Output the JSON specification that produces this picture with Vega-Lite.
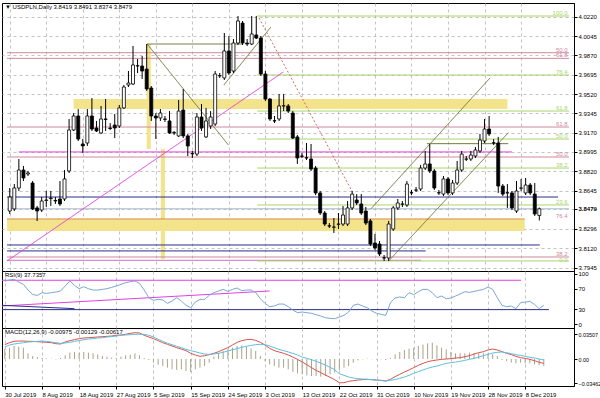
{
"$schema": "https://vega.github.io/schema/vega-lite/v6.json",
"padding": {"left": 1, "top": 2, "right": 0, "bottom": 0},
"background": "white",
"spacing": 0,
"bounds": "flush",
"config": {
 "view": {"stroke": "#000", "strokeWidth": 1},
 "font": "Liberation Sans",
 "axis": {"labelFontSize": 6, "labelColor": "#000", "tickColor": "#000", "domainColor": "#000", "gridColor": "#b4b4b4", "gridDash": [3, 3], "gridWidth": 0.8, "tickSize": 3, "labelPadding": 1, "minExtent": 0},
 "title": {"fontSize": 6, "fontWeight": "normal", "color": "#000", "anchor": "start", "frame": "group", "offset": -7, "dx": 3, "font": "Liberation Sans"}
},
"datasets": {
 "bars": [
{"i":0,"o":3.8459,"h":3.8668,"l":3.8432,"c":3.8586,"rsi":85,"hist":0.0147,"m1":0.0204,"m2":0.0171},
{"i":1,"o":3.8478,"h":3.8704,"l":3.8459,"c":3.8668,"rsi":87.5,"hist":0.0161,"m1":0.0232,"m2":0.0199},
{"i":2,"o":3.8668,"h":3.8931,"l":3.8641,"c":3.8831,"rsi":88.8,"hist":0.0185,"m1":0.0251,"m2":0.0213},
{"i":3,"o":3.8831,"h":3.8868,"l":3.8731,"c":3.8759,"rsi":83.5,"hist":0.0175,"m1":0.0256,"m2":0.0223},
{"i":4,"o":3.8795,"h":3.8822,"l":3.8777,"c":3.8804,"rsi":79,"hist":0.0161,"m1":0.0256,"m2":0.0232},
{"i":5,"o":3.8713,"h":3.8731,"l":3.8468,"c":3.8478,"rsi":67.7,"hist":0.0081,"m1":0.0251,"m2":0.0242},
{"i":6,"o":3.8487,"h":3.8505,"l":3.8369,"c":3.8459,"rsi":59,"hist":0.0043,"m1":0.0251,"m2":0.0246},
{"i":7,"o":3.8468,"h":3.8586,"l":3.8450,"c":3.8550,"rsi":57,"hist":0.0028,"m1":0.0246,"m2":0.0251},
{"i":8,"o":3.8555,"h":3.8641,"l":3.8496,"c":3.8559,"rsi":62.5,"hist":0.0014,"m1":0.0242,"m2":0.0256},
{"i":9,"o":3.8572,"h":3.8641,"l":3.8505,"c":3.8577,"rsi":61,"hist":0.0009,"m1":0.0237,"m2":0.0251},
{"i":10,"o":3.8555,"h":3.8586,"l":3.8523,"c":3.8550,"rsi":62.5,"hist":0.0005,"m1":0.0232,"m2":0.0242},
{"i":11,"o":3.8568,"h":3.8731,"l":3.8505,"c":3.8523,"rsi":63.8,"hist":-0.0005,"m1":0.0218,"m2":0.0232},
{"i":12,"o":3.8568,"h":3.8831,"l":3.8550,"c":3.8750,"rsi":65.8,"hist":0.0014,"m1":0.0213,"m2":0.0223},
{"i":13,"o":3.8822,"h":3.9294,"l":3.8804,"c":3.9194,"rsi":75.6,"hist":0.0052,"m1":0.0242,"m2":0.0228},
{"i":14,"o":3.9194,"h":3.9348,"l":3.9185,"c":3.9321,"rsi":85.5,"hist":0.0090,"m1":0.0261,"m2":0.0237},
{"i":15,"o":3.9321,"h":3.9384,"l":3.9094,"c":3.9112,"rsi":77,"hist":0.0100,"m1":0.0275,"m2":0.0251},
{"i":16,"o":3.9067,"h":3.9112,"l":3.8985,"c":3.9049,"rsi":70.4,"hist":0.0090,"m1":0.0289,"m2":0.0261},
{"i":17,"o":3.9076,"h":3.9384,"l":3.9049,"c":3.9321,"rsi":74.3,"hist":0.0100,"m1":0.0299,"m2":0.0275},
{"i":18,"o":3.9321,"h":3.9484,"l":3.9185,"c":3.9203,"rsi":70.4,"hist":0.0090,"m1":0.0303,"m2":0.0284},
{"i":19,"o":3.9212,"h":3.9276,"l":3.9176,"c":3.9185,"rsi":67.7,"hist":0.0081,"m1":0.0308,"m2":0.0289},
{"i":20,"o":3.9167,"h":3.9412,"l":3.9158,"c":3.9294,"rsi":67.7,"hist":0.0066,"m1":0.0313,"m2":0.0299},
{"i":21,"o":3.9294,"h":3.9475,"l":3.9185,"c":3.9290,"rsi":69,"hist":0.0043,"m1":0.0318,"m2":0.0303},
{"i":22,"o":3.9212,"h":3.9257,"l":3.9194,"c":3.9208,"rsi":70.4,"hist":0.0033,"m1":0.0322,"m2":0.0313},
{"i":23,"o":3.9239,"h":3.9339,"l":3.9121,"c":3.9212,"rsi":73,"hist":0.0019,"m1":0.0327,"m2":0.0318},
{"i":24,"o":3.9230,"h":3.9421,"l":3.9212,"c":3.9394,"rsi":75.6,"hist":0.0014,"m1":0.0337,"m2":0.0327},
{"i":25,"o":3.9394,"h":3.9602,"l":3.9384,"c":3.9584,"rsi":79,"hist":0.0033,"m1":0.0341,"m2":0.0337},
{"i":26,"o":3.9602,"h":3.9729,"l":3.9584,"c":3.9620,"rsi":82.2,"hist":0.0052,"m1":0.0351,"m2":0.0341},
{"i":27,"o":3.9611,"h":3.9956,"l":3.9602,"c":3.9784,"rsi":84.2,"hist":0.0062,"m1":0.0365,"m2":0.0346},
{"i":28,"o":3.9774,"h":3.9838,"l":3.9711,"c":3.9778,"rsi":85.5,"hist":0.0081,"m1":0.0374,"m2":0.0351},
{"i":29,"o":3.9774,"h":3.9865,"l":3.9657,"c":3.9729,"rsi":80.9,"hist":0.0052,"m1":0.0370,"m2":0.0351},
{"i":30,"o":3.9747,"h":3.9974,"l":3.9548,"c":3.9566,"rsi":67.7,"hist":0.0014,"m1":0.0337,"m2":0.0351},
{"i":31,"o":3.9575,"h":3.9593,"l":3.9276,"c":3.9321,"rsi":52.6,"hist":-0.0014,"m1":0.0313,"m2":0.0337},
{"i":32,"o":3.9321,"h":3.9348,"l":3.9112,"c":3.9303,"rsi":47.3,"hist":-0.0052,"m1":0.0289,"m2":0.0313},
{"i":33,"o":3.9303,"h":3.9384,"l":3.9276,"c":3.9348,"rsi":49.3,"hist":-0.0081,"m1":0.0261,"m2":0.0280},
{"i":34,"o":3.9290,"h":3.9321,"l":3.9267,"c":3.9294,"rsi":48,"hist":-0.0100,"m1":0.0232,"m2":0.0251},
{"i":35,"o":3.9276,"h":3.9366,"l":3.9158,"c":3.9167,"rsi":41.4,"hist":-0.0123,"m1":0.0209,"m2":0.0223},
{"i":36,"o":3.9170,"h":3.9185,"l":3.9149,"c":3.9167,"rsi":46,"hist":-0.0147,"m1":0.0185,"m2":0.0204},
{"i":37,"o":3.9140,"h":3.9466,"l":3.9131,"c":3.9366,"rsi":52.6,"hist":-0.0156,"m1":0.0161,"m2":0.0180},
{"i":38,"o":3.9375,"h":3.9566,"l":3.9121,"c":3.9140,"rsi":46,"hist":-0.0147,"m1":0.0142,"m2":0.0161},
{"i":39,"o":3.9140,"h":3.9158,"l":3.8958,"c":3.9049,"rsi":37.5,"hist":-0.0171,"m1":0.0119,"m2":0.0137},
{"i":40,"o":3.8980,"h":3.9004,"l":3.8940,"c":3.8978,"rsi":32.8,"hist":-0.0185,"m1":0.0081,"m2":0.0119},
{"i":41,"o":3.8976,"h":3.9348,"l":3.8958,"c":3.9312,"rsi":44,"hist":-0.0147,"m1":0.0057,"m2":0.0104},
{"i":42,"o":3.9312,"h":3.9430,"l":3.9185,"c":3.9212,"rsi":49.3,"hist":-0.0123,"m1":0.0038,"m2":0.0085},
{"i":43,"o":3.9131,"h":3.9394,"l":3.9121,"c":3.9276,"rsi":49.3,"hist":-0.0100,"m1":0.0047,"m2":0.0071},
{"i":44,"o":3.9230,"h":3.9366,"l":3.9203,"c":3.9312,"rsi":57.2,"hist":-0.0052,"m1":0.0062,"m2":0.0066},
{"i":45,"o":3.9248,"h":3.9729,"l":3.9230,"c":3.9702,"rsi":62.5,"hist":0.0033,"m1":0.0081,"m2":0.0071},
{"i":46,"o":3.9684,"h":3.9711,"l":3.9666,"c":3.9688,"rsi":65.8,"hist":0.0081,"m1":0.0104,"m2":0.0081},
{"i":47,"o":3.9666,"h":4.0074,"l":3.9648,"c":3.9911,"rsi":69,"hist":0.0114,"m1":0.0133,"m2":0.0095},
{"i":48,"o":3.9911,"h":4.0047,"l":3.9693,"c":3.9711,"rsi":65,"hist":0.0137,"m1":0.0161,"m2":0.0114},
{"i":49,"o":3.9729,"h":4.0019,"l":3.9711,"c":3.9983,"rsi":69,"hist":0.0161,"m1":0.0199,"m2":0.0133},
{"i":50,"o":3.9983,"h":4.0228,"l":3.9965,"c":4.0183,"rsi":71.7,"hist":0.0185,"m1":0.0237,"m2":0.0147},
{"i":51,"o":4.0164,"h":4.0183,"l":3.9965,"c":3.9983,"rsi":66.4,"hist":0.0194,"m1":0.0261,"m2":0.0166},
{"i":52,"o":3.9983,"h":4.0019,"l":3.9956,"c":3.9974,"rsi":67.7,"hist":0.0175,"m1":0.0275,"m2":0.0180},
{"i":53,"o":3.9974,"h":4.0228,"l":3.9965,"c":4.0065,"rsi":67.7,"hist":0.0147,"m1":0.0280,"m2":0.0194},
{"i":54,"o":4.0056,"h":4.0228,"l":4.0019,"c":4.0028,"rsi":62.5,"hist":0.0114,"m1":0.0265,"m2":0.0204},
{"i":55,"o":4.0028,"h":4.0047,"l":3.9684,"c":3.9702,"rsi":50.6,"hist":0.0043,"m1":0.0237,"m2":0.0209},
{"i":56,"o":3.9702,"h":3.9729,"l":3.9457,"c":3.9475,"rsi":41.4,"hist":-0.0028,"m1":0.0199,"m2":0.0204},
{"i":57,"o":3.9475,"h":3.9484,"l":3.9276,"c":3.9294,"rsi":34.8,"hist":-0.0076,"m1":0.0152,"m2":0.0185},
{"i":58,"o":3.9278,"h":3.9321,"l":3.9257,"c":3.9276,"rsi":36.1,"hist":-0.0100,"m1":0.0119,"m2":0.0161},
{"i":59,"o":3.9294,"h":3.9521,"l":3.9276,"c":3.9412,"rsi":40,"hist":-0.0123,"m1":0.0100,"m2":0.0137},
{"i":60,"o":3.9412,"h":3.9521,"l":3.9366,"c":3.9414,"rsi":40,"hist":-0.0123,"m1":0.0081,"m2":0.0119},
{"i":61,"o":3.9412,"h":3.9430,"l":3.9348,"c":3.9366,"rsi":34.8,"hist":-0.0147,"m1":0.0057,"m2":0.0100},
{"i":62,"o":3.9348,"h":3.9366,"l":3.9112,"c":3.9121,"rsi":28.2,"hist":-0.0185,"m1":0.0028,"m2":0.0081},
{"i":63,"o":3.9131,"h":3.9149,"l":3.8886,"c":3.8940,"rsi":23,"hist":-0.0204,"m1":-0.0005,"m2":0.0057},
{"i":64,"o":3.8958,"h":3.8985,"l":3.8940,"c":3.8956,"rsi":24.3,"hist":-0.0218,"m1":-0.0043,"m2":0.0028},
{"i":65,"o":3.8942,"h":3.9076,"l":3.8922,"c":3.8940,"rsi":23,"hist":-0.0232,"m1":-0.0081,"m2":0.0009},
{"i":66,"o":3.8931,"h":3.9067,"l":3.8822,"c":3.8840,"rsi":21.7,"hist":-0.0242,"m1":-0.0123,"m2":-0.0009},
{"i":67,"o":3.8849,"h":3.8868,"l":3.8604,"c":3.8623,"rsi":19,"hist":-0.0242,"m1":-0.0161,"m2":-0.0033},
{"i":68,"o":3.8623,"h":3.8641,"l":3.8423,"c":3.8441,"rsi":16.4,"hist":-0.0251,"m1":-0.0194,"m2":-0.0057},
{"i":69,"o":3.8441,"h":3.8459,"l":3.8323,"c":3.8341,"rsi":13.1,"hist":-0.0242,"m1":-0.0228,"m2":-0.0085},
{"i":70,"o":3.8325,"h":3.8350,"l":3.8305,"c":3.8323,"rsi":11.8,"hist":-0.0218,"m1":-0.0261,"m2":-0.0119},
{"i":71,"o":3.8312,"h":3.8396,"l":3.8260,"c":3.8314,"rsi":11.1,"hist":-0.0194,"m1":-0.0294,"m2":-0.0152},
{"i":72,"o":3.8339,"h":3.8441,"l":3.8296,"c":3.8341,"rsi":14.4,"hist":-0.0156,"m1":-0.0337,"m2":-0.0209},
{"i":73,"o":3.8341,"h":3.8505,"l":3.8323,"c":3.8423,"rsi":17.7,"hist":-0.0123,"m1":-0.0337,"m2":-0.0232},
{"i":74,"o":3.8341,"h":3.8550,"l":3.8323,"c":3.8487,"rsi":24.3,"hist":-0.0100,"m1":-0.0318,"m2":-0.0256},
{"i":75,"o":3.8487,"h":3.8641,"l":3.8468,"c":3.8613,"rsi":37.5,"hist":-0.0052,"m1":-0.0308,"m2":-0.0270},
{"i":76,"o":3.8559,"h":3.8613,"l":3.8514,"c":3.8532,"rsi":40.1,"hist":-0.0019,"m1":-0.0299,"m2":-0.0280},
{"i":77,"o":3.8523,"h":3.8613,"l":3.8423,"c":3.8441,"rsi":36.1,"hist":-0.0005,"m1":-0.0294,"m2":-0.0284},
{"i":78,"o":3.8459,"h":3.8496,"l":3.8332,"c":3.8350,"rsi":32.8,"hist":0.0005,"m1":-0.0289,"m2":-0.0289},
{"i":79,"o":3.8369,"h":3.8387,"l":3.8142,"c":3.8160,"rsi":26.3,"hist":-0.0005,"m1":-0.0294,"m2":-0.0294},
{"i":80,"o":3.8169,"h":3.8251,"l":3.8106,"c":3.8124,"rsi":21.7,"hist":-0.0009,"m1":-0.0299,"m2":-0.0303},
{"i":81,"o":3.8160,"h":3.8187,"l":3.8051,"c":3.8069,"rsi":19.7,"hist":-0.0005,"m1":-0.0303,"m2":-0.0308},
{"i":82,"o":3.8035,"h":3.8060,"l":3.8006,"c":3.8033,"rsi":17.7,"hist":-0.0014,"m1":-0.0313,"m2":-0.0313},
{"i":83,"o":3.8033,"h":3.8369,"l":3.8006,"c":3.8341,"rsi":42.7,"hist":0.0014,"m1":-0.0289,"m2":-0.0303},
{"i":84,"o":3.8296,"h":3.8505,"l":3.8278,"c":3.8487,"rsi":52,"hist":0.0066,"m1":-0.0251,"m2":-0.0294},
{"i":85,"o":3.8487,"h":3.8568,"l":3.8468,"c":3.8532,"rsi":54,"hist":0.0100,"m1":-0.0218,"m2":-0.0275},
{"i":86,"o":3.8521,"h":3.8550,"l":3.8496,"c":3.8523,"rsi":52.6,"hist":0.0128,"m1":-0.0185,"m2":-0.0256},
{"i":87,"o":3.8514,"h":3.8731,"l":3.8496,"c":3.8704,"rsi":62.5,"hist":0.0147,"m1":-0.0156,"m2":-0.0232},
{"i":88,"o":3.8625,"h":3.8650,"l":3.8604,"c":3.8623,"rsi":58.5,"hist":0.0161,"m1":-0.0123,"m2":-0.0204},
{"i":89,"o":3.8648,"h":3.8677,"l":3.8632,"c":3.8650,"rsi":64.4,"hist":0.0185,"m1":-0.0090,"m2":-0.0180},
{"i":90,"o":3.8659,"h":3.8877,"l":3.8641,"c":3.8849,"rsi":69,"hist":0.0204,"m1":-0.0062,"m2":-0.0156},
{"i":91,"o":3.8849,"h":3.9004,"l":3.8831,"c":3.8886,"rsi":69,"hist":0.0223,"m1":-0.0038,"m2":-0.0133},
{"i":92,"o":3.8886,"h":3.9067,"l":3.8804,"c":3.8822,"rsi":62.5,"hist":0.0232,"m1":-0.0024,"m2":-0.0114},
{"i":93,"o":3.8822,"h":3.8840,"l":3.8650,"c":3.8668,"rsi":52.6,"hist":0.0194,"m1":-0.0014,"m2":-0.0100},
{"i":94,"o":3.8625,"h":3.8650,"l":3.8604,"c":3.8623,"rsi":55.9,"hist":0.0161,"m1":-0.0005,"m2":-0.0081},
{"i":95,"o":3.8613,"h":3.8777,"l":3.8595,"c":3.8750,"rsi":50.6,"hist":0.0137,"m1":0.0000,"m2":-0.0062},
{"i":96,"o":3.8750,"h":3.8768,"l":3.8604,"c":3.8623,"rsi":52,"hist":0.0100,"m1":0.0005,"m2":-0.0052},
{"i":97,"o":3.8623,"h":3.8741,"l":3.8604,"c":3.8713,"rsi":55.9,"hist":0.0081,"m1":0.0014,"m2":-0.0043},
{"i":98,"o":3.8713,"h":3.8913,"l":3.8695,"c":3.8831,"rsi":59.8,"hist":0.0081,"m1":0.0019,"m2":-0.0033},
{"i":99,"o":3.8831,"h":3.9004,"l":3.8813,"c":3.8976,"rsi":64.4,"hist":0.0081,"m1":0.0033,"m2":-0.0019},
{"i":100,"o":3.8929,"h":3.8958,"l":3.8913,"c":3.8931,"rsi":63.1,"hist":0.0090,"m1":0.0047,"m2":-0.0005},
{"i":101,"o":3.8931,"h":3.9004,"l":3.8913,"c":3.8967,"rsi":65,"hist":0.0081,"m1":0.0071,"m2":0.0009},
{"i":102,"o":3.8958,"h":3.9040,"l":3.8940,"c":3.9013,"rsi":67,"hist":0.0081,"m1":0.0090,"m2":0.0028},
{"i":103,"o":3.9004,"h":3.9158,"l":3.8985,"c":3.9103,"rsi":69,"hist":0.0081,"m1":0.0104,"m2":0.0047},
{"i":104,"o":3.9094,"h":3.9294,"l":3.9076,"c":3.9203,"rsi":73.6,"hist":0.0081,"m1":0.0128,"m2":0.0066},
{"i":105,"o":3.9203,"h":3.9321,"l":3.9140,"c":3.9158,"rsi":69,"hist":0.0066,"m1":0.0142,"m2":0.0085},
{"i":106,"o":3.9078,"h":3.9112,"l":3.9058,"c":3.9076,"rsi":52.6,"hist":0.0043,"m1":0.0128,"m2":0.0095},
{"i":107,"o":3.9076,"h":3.9131,"l":3.8623,"c":3.8686,"rsi":37.5,"hist":-0.0014,"m1":0.0104,"m2":0.0100},
{"i":108,"o":3.8686,"h":3.8704,"l":3.8595,"c":3.8613,"rsi":34.8,"hist":-0.0028,"m1":0.0081,"m2":0.0090},
{"i":109,"o":3.8625,"h":3.8704,"l":3.8487,"c":3.8623,"rsi":36.1,"hist":-0.0052,"m1":0.0062,"m2":0.0076},
{"i":110,"o":3.8623,"h":3.8641,"l":3.8468,"c":3.8487,"rsi":30.9,"hist":-0.0062,"m1":0.0038,"m2":0.0062},
{"i":111,"o":3.8459,"h":3.8731,"l":3.8441,"c":3.8641,"rsi":42.7,"hist":-0.0052,"m1":0.0019,"m2":0.0052},
{"i":112,"o":3.8666,"h":3.8750,"l":3.8641,"c":3.8668,"rsi":44,"hist":-0.0062,"m1":0.0009,"m2":0.0038},
{"i":113,"o":3.8623,"h":3.8759,"l":3.8604,"c":3.8695,"rsi":45.3,"hist":-0.0062,"m1":-0.0005,"m2":0.0024},
{"i":114,"o":3.8695,"h":3.8713,"l":3.8604,"c":3.8623,"rsi":39.4,"hist":-0.0076,"m1":-0.0024,"m2":0.0014},
{"i":115,"o":3.8613,"h":3.8713,"l":3.8414,"c":3.8432,"rsi":30.9,"hist":-0.0090,"m1":-0.0047,"m2":0.0000},
{"i":116,"o":3.8419,"h":3.8491,"l":3.8374,"c":3.8479,"rsi":37.7,"hist":-0.0098,"m1":-0.0062,"m2":-0.0013}
 ],
 "lev": [
  {"y":4.0228,"x1":54.2,"x2":122.5,"k":"fg"},
  {"y":3.9895,"x1":-0.6,"x2":122.5,"k":"fr"},
  {"y":3.9844,"x1":-0.6,"x2":122.5,"k":"fr"},
  {"y":3.9693,"x1":54.2,"x2":122.5,"k":"fg"},
  {"y":3.9366,"x1":54.2,"x2":122.5,"k":"fg"},
  {"y":3.9221,"x1":-0.6,"x2":122.5,"k":"fr"},
  {"y":3.9112,"x1":54.2,"x2":122.5,"k":"fg"},
  {"y":3.8995,"x1":2,"x2":110,"k":"mag"},
  {"y":3.8949,"x1":-0.6,"x2":122.5,"k":"fr"},
  {"y":3.8849,"x1":54.2,"x2":122.5,"k":"fg"},
  {"y":3.8586,"x1":-0.6,"x2":120.1,"k":"navy"},
  {"y":3.8514,"x1":54.2,"x2":122.5,"k":"fg"},
  {"y":3.8479,"x1":-0.6,"x2":122.5,"k":"bid"},
  {"y":3.8387,"x1":-0.6,"x2":112.8,"k":"orange"},
  {"y":3.8151,"x1":-0.6,"x2":116.1,"k":"navy"},
  {"y":3.8097,"x1":-0.6,"x2":91.1,"k":"navy"},
  {"y":3.8042,"x1":-0.6,"x2":122.5,"k":"fr"},
  {"y":3.8012,"x1":-0.6,"x2":90.1,"k":"thinmag"},
  {"y":3.8006,"x1":54.2,"x2":122.5,"k":"fg"}
 ],
 "seg": [
  {"x1":30.1,"y1":3.9974,"x2":51,"y2":3.9974,"k":"olive"},
  {"x1":30.1,"y1":3.9974,"x2":47.9,"y2":3.9058,"k":"olive"},
  {"x1":46.9,"y1":3.9602,"x2":57.2,"y2":4.0128,"k":"olive"},
  {"x1":79.1,"y1":3.8478,"x2":105.2,"y2":3.9666,"k":"olive"},
  {"x1":83.0,"y1":3.8006,"x2":109.2,"y2":3.9169,"k":"olive"},
  {"x1":91.4,"y1":3.9070,"x2":109.2,"y2":3.9070,"k":"olive"},
  {"x1":54.6,"y1":4.0210,"x2":75.3,"y2":3.8613,"k":"reddash"},
  {"x1":-0.6,"y1":3.8006,"x2":59.9,"y2":3.9720,"k":"mag"}
 ],
 "band": [
  {"x1":14,"x2":109,"y1":3.9384,"y2":3.9475},
  {"x1":-0.6,"x2":112.8,"y1":3.8278,"y2":3.8387},
  {"x1":30.0,"x2":30.9,"y1":3.9022,"y2":3.9974},
  {"x1":33.1,"x2":34.0,"y1":3.8024,"y2":3.9022}
 ],
 "flab": [
  {"y":4.0228,"t":"100.0","k":"fg"},
  {"y":3.9895,"t":"50.0","k":"fr"},
  {"y":3.9844,"t":"61.8","k":"fr"},
  {"y":3.9693,"t":"76.4","k":"fg"},
  {"y":3.9366,"t":"61.8","k":"fg"},
  {"y":3.9221,"t":"61.8","k":"fr"},
  {"y":3.9112,"t":"50.0","k":"fg"},
  {"y":3.8949,"t":"50.0","k":"fr"},
  {"y":3.8849,"t":"38.2","k":"fg"},
  {"y":3.8514,"t":"23.6","k":"fg"},
  {"y":3.8387,"t":"76.4","k":"fr"},
  {"y":3.8042,"t":"38.2","k":"fr"},
  {"y":3.7990,"t":"0.0","k":"fg"}
 ],
 "rlev": [
  {"y":87,"x1":-0.6,"x2":111.1,"k":"mag"},
  {"y":29,"x1":-0.6,"x2":117.1,"k":"navy"}
 ],
 "rseg": [
  {"x1":-0.6,"y1":36.2,"x2":57,"y2":65.8,"k":"mag"},
  {"x1":-0.6,"y1":37.5,"x2":15,"y2":30.9,"k":"navy"}
 ]
},
"vconcat": [
 {
  "width": 572, "height": 268,
  "title": {"text": "▼ USDPLN,Daily  3.8419 3.8491 3.8374 3.8479"},
  "encoding": {
   "x": {"type": "quantitative", "scale": {"domain": [-0.6, 122.5], "nice": false, "zero": false},
         "axis": {"values": [0,8,16,24,32,40,48,56,64,72,80,88,96,104,112], "labels": false, "ticks": false, "domain": false, "grid": true, "maxExtent": 0, "title": null}},
   "y": {"type": "quantitative", "scale": {"domain": [3.7915, 4.0346], "nice": false, "zero": false},
         "axis": {"orient": "right", "title": null, "values": [3.7945,3.812,3.8296,3.8479,3.8645,3.882,3.8995,3.917,3.9345,3.952,3.9695,3.987,4.0045,4.022], "format": ".4f",
                  "labelFontWeight": {"condition": {"test": "datum.value == 3.8479", "value": "bold"}, "value": "normal"}}}
  },
  "layer": [
   {
    "data": {"name": "band"},
    "mark": {"type": "rect", "color": "#f3e38a"},
    "encoding": {"x": {"field": "x1"}, "x2": {"field": "x2"}, "y": {"field": "y1"}, "y2": {"field": "y2"}}
   },
   {
    "data": {"name": "lev"},
    "mark": {"type": "rule"},
    "encoding": {
     "x": {"field": "x1"}, "x2": {"field": "x2"}, "y": {"field": "y"},
     "color": {"field": "k", "type": "nominal", "legend": null,
               "scale": {"domain": ["fg","fr","mag","navy","orange","bid","olive","reddash","thinmag"], "range": ["#a9d46c","#cf8a9c","#e040e0","#2b2f8a","#d98c4a","#a8b8cc","#6b7a35","#c87060","#d070c8"]}},
     "strokeWidth": {"field": "k", "type": "nominal", "legend": null,
               "scale": {"domain": ["fg","fr","mag","navy","orange","bid","olive","reddash","thinmag"], "range": [1,1,2,1.5,1.5,1,1,1,1]}}
    }
   },
   {
    "data": {"name": "seg"},
    "mark": {"type": "rule"},
    "encoding": {
     "x": {"field": "x1"}, "x2": {"field": "x2"}, "y": {"field": "y1"}, "y2": {"field": "y2"},
     "color": {"field": "k", "type": "nominal", "legend": null},
     "strokeWidth": {"field": "k", "type": "nominal", "legend": null},
     "strokeDash": {"field": "k", "type": "nominal", "legend": null,
               "scale": {"domain": ["olive","mag","reddash"], "range": [[1,0],[1,0],[2,2]]}}
    }
   },
   {
    "data": {"name": "bars"},
    "mark": {"type": "rule", "color": "#000", "strokeWidth": 1},
    "encoding": {"x": {"field": "i"}, "y": {"field": "l"}, "y2": {"field": "h"}}
   },
   {
    "data": {"name": "bars"},
    "mark": {"type": "bar", "size": 3, "stroke": "#000", "strokeWidth": 0.8},
    "encoding": {
     "x": {"field": "i"}, "y": {"field": "o"}, "y2": {"field": "c"},
     "fill": {"condition": {"test": "datum.c < datum.o", "value": "#000"}, "value": "#fff"}
    }
   },
   {
    "data": {"name": "flab"},
    "mark": {"type": "text", "align": "right", "baseline": "bottom", "fontSize": 6},
    "encoding": {
     "x": {"datum": 122.2},
     "y": {"field": "y"},
     "text": {"field": "t"},
     "color": {"field": "k", "type": "nominal", "legend": null}
    }
   }
  ]
 },
 {
  "width": 572, "height": 57,
  "title": {"text": "RSI(9) 37.7357"},
  "encoding": {
   "x": {"type": "quantitative", "scale": {"domain": [-0.6, 122.5], "nice": false, "zero": false},
         "axis": {"values": [0,8,16,24,32,40,48,56,64,72,80,88,96,104,112], "labels": false, "ticks": false, "domain": false, "grid": true, "maxExtent": 0, "title": null}},
   "y": {"type": "quantitative", "scale": {"domain": [-7.3, 105.3], "nice": false, "zero": false},
         "axis": {"orient": "right", "title": null, "values": [0, 30, 70, 100], "grid": false}}
  },
  "layer": [
   {
    "data": {"name": "rlev"},
    "mark": {"type": "rule"},
    "encoding": {
     "x": {"field": "x1"}, "x2": {"field": "x2"}, "y": {"field": "y"},
     "color": {"field": "k", "type": "nominal", "legend": null, "scale": {"domain": ["mag","navy"], "range": ["#e040e0","#2b2f8a"]}},
     "strokeWidth": {"field": "k", "type": "nominal", "legend": null, "scale": {"domain": ["mag","navy"], "range": [2, 1.5]}}
    }
   },
   {
    "data": {"name": "rseg"},
    "mark": {"type": "rule"},
    "encoding": {
     "x": {"field": "x1"}, "x2": {"field": "x2"}, "y": {"field": "y1"}, "y2": {"field": "y2"},
     "color": {"field": "k", "type": "nominal", "legend": null},
     "strokeWidth": {"field": "k", "type": "nominal", "legend": null}
    }
   },
   {
    "data": {"name": "bars"},
    "mark": {"type": "line", "color": "#7aa7d6", "strokeWidth": 1},
    "encoding": {"x": {"field": "i"}, "y": {"field": "rsi"}}
   }
  ]
 },
 {
  "width": 572, "height": 58,
  "title": {"text": "MACD(12,26,9) -0.00975 -0.00129 -0.00617"},
  "encoding": {
   "x": {"type": "quantitative", "scale": {"domain": [-0.6, 122.5], "nice": false, "zero": false},
         "axis": {"values": [0,8,16,24,32,40,48,56,64,72,80,88,96,104,112], "grid": true, "domain": false, "labelAlign": "left", "labelPadding": 2, "labelBaseline": "top", "title": null, "labelOverlap": false,
                  "labelExpr": "['30 Jul 2019','8 Aug 2019','18 Aug 2019','27 Aug 2019','5 Sep 2019','15 Sep 2019','24 Sep 2019','3 Oct 2019','13 Oct 2019','22 Oct 2019','31 Oct 2019','10 Nov 2019','19 Nov 2019','28 Nov 2019','8 Dec 2019'][round(datum.value/8)]"}},
   "y": {"type": "quantitative", "scale": {"domain": [-0.0384, 0.0441], "nice": false, "zero": false},
         "axis": {"orient": "right", "title": null, "values": [0.03507, 0, -0.03462], "grid": false, "labelFontSize": 5.4, "labelExpr": "datum.value == 0 ? '0.00' : format(datum.value, '.5f')"}}
  },
  "layer": [
   {
    "data": {"name": "bars"},
    "mark": {"type": "rule", "color": "#a7a38a", "strokeWidth": 1},
    "encoding": {"x": {"field": "i"}, "y": {"field": "hist"}, "y2": {"datum": 0}}
   },
   {
    "data": {"name": "bars"},
    "mark": {"type": "line", "color": "#d9534a", "strokeWidth": 1},
    "encoding": {"x": {"field": "i"}, "y": {"field": "m1"}}
   },
   {
    "data": {"name": "bars"},
    "mark": {"type": "line", "color": "#5fbfe0", "strokeWidth": 1},
    "encoding": {"x": {"field": "i"}, "y": {"field": "m2"}}
   }
  ]
 }
]
}
